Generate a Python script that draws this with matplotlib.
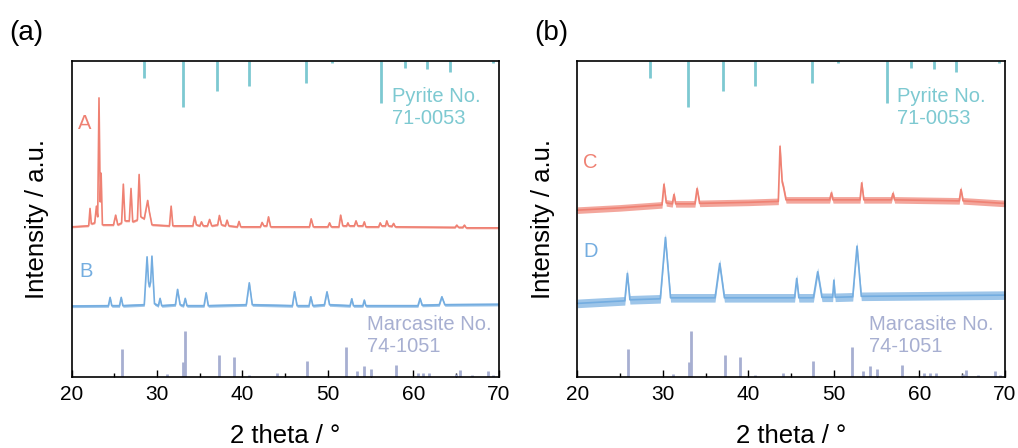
import matplotlib
matplotlib.use("Agg")
import matplotlib.pyplot as plt
import numpy as np

plt.rcParams['font.family'] = ['Liberation Sans', 'DejaVu Sans']

# ---------------- data (2theta in degrees, intensity in a.u.) ----------------
pyrite_pos = [28.5, 33.0, 37.05, 40.75, 47.4, 50.5, 56.25, 59.0, 61.65, 64.25, 69.35]
pyrite_int = [17, 46, 30, 25, 22.5, 2, 42.5, 7.5, 8.5, 11, 2]

marc_pos = [25.93, 31.2, 33.05, 33.28, 37.3, 38.99, 40.75, 44.1, 47.6, 52.1, 53.36,
            54.2, 55.0, 57.98, 60.56, 61.2, 61.9, 65.05, 65.43, 66.9, 68.8, 69.4]
marc_int = [27.7, 2.4, 15, 46, 22, 19.4, 2, 3.4, 15.4, 29.4, 5.7,
            11, 7.4, 11.4, 4, 4, 4, 3, 6.6, 2, 5.4, 2]

A_x = [20, 21.9, 22.0, 22.15, 22.3, 22.7, 22.9, 23.05, 23.2, 23.35, 23.45, 23.6, 24.9, 25.15,
       25.4, 25.85, 26.05, 26.25, 26.75, 26.95, 27.15, 27.7, 27.9, 28.1, 28.5, 28.9, 29.1, 29.4,
       31.45, 31.65, 31.85, 34.2, 34.4, 34.6, 35.0, 35.2, 35.4, 35.9, 36.15, 36.4, 37.1, 37.3,
       37.55, 38.0, 38.2, 38.4, 39.4, 39.6, 39.8, 42.1, 42.3, 42.5, 42.85, 43.05, 43.3, 47.85,
       48.05, 48.3, 50.0, 50.2, 50.4, 51.3, 51.5, 51.75, 52.2, 52.35, 52.5, 53.1, 53.3, 53.5,
       54.1, 54.27, 54.45, 55.95, 56.13, 56.3, 56.75, 56.9, 57.1, 57.5, 57.7, 57.9, 64.9, 65.1,
       65.3, 65.8, 66.0, 66.2, 70]
A_y = [150, 151, 151.5, 168.4, 153, 154, 170.7, 160, 279, 175, 203.7, 152, 152, 161.7,
       152, 154, 192.7, 156, 156, 188.4, 155, 157, 202.4, 160, 158, 176.4, 165, 152,
       151, 170.7, 151, 151, 160.4, 152, 151, 155, 151, 151, 157.4, 151, 152, 161.4,
       152, 151, 156.7, 151, 150, 155.4, 150, 150, 154.4, 151, 151, 160, 150, 150,
       158, 150, 150, 154, 150, 150, 161.7, 151, 151, 154, 151, 151, 156, 151,
       151, 155, 150, 150, 154, 151, 151, 156, 151, 150.5, 153.4, 150, 149.5, 151.7,
       149.5, 149.5, 151.7, 149, 149]

B_x = [20, 24.3, 24.5, 24.7, 25.6, 25.8, 26.0, 28.5, 28.83, 29.0, 29.1, 29.25, 29.4, 29.7,
       30.15, 30.35, 30.55, 32.15, 32.4, 32.7, 33.1, 33.3, 33.5, 35.5, 35.75, 36.0, 40.45, 40.8,
       41.15, 45.85, 46.1, 46.4, 47.8, 48.0, 48.25, 49.6, 49.9, 50.2, 52.6, 52.8, 53.0, 54.1,
       54.27, 54.45, 60.55, 60.8, 61.05, 63.05, 63.35, 63.7, 70]
B_y = [70.7, 71, 79.4, 71, 71, 79.4, 71, 72, 120, 95, 90, 95, 120.7, 73,
       71, 78.4, 71, 72, 87.4, 72, 71, 78.4, 71, 71, 84, 71, 72, 94,
       72, 71, 85, 71, 71, 80, 71, 72, 85, 72, 71, 78, 71, 71,
       76.7, 71, 71, 78.4, 71.5, 72, 80, 72, 72.4]

C_x = [20, 25, 29.9, 30.13, 30.4, 31.1, 31.3, 31.5, 33.75, 34.0, 34.3, 40, 43.5, 43.7,
       43.95, 44.1, 44.4, 49.5, 49.7, 49.9, 53.05, 53.25, 53.5, 56.7, 56.9, 57.1, 64.65,
       64.85, 65.1, 70]
C_y = [166.7, 169, 172, 192.7, 174, 173, 182.4, 173, 173, 188.4, 173.5, 174.5, 175.5, 230.7,
       195, 190, 177, 177, 184, 177, 177, 194, 177, 177, 183.4, 177, 176,
       187.4, 176, 173.4]

D_x = [20, 25.55, 25.85, 26.15, 29.7, 30.3, 30.9, 36.1, 36.65, 37.2, 45.4, 45.65, 45.9,
       47.6, 48.1, 48.6, 49.85, 50.0, 50.15, 52.2, 52.7, 53.2, 70]
D_y = [73.4, 76, 103.4, 77, 78, 139.4, 79, 79, 113.4, 79, 79, 98.4, 79,
       79, 105, 79.5, 79.5, 96.7, 79.5, 80, 130.7, 80.5, 81.7]

noise_amp = {'A': 1.0, 'B': 1.5, 'C': 3.3, 'D': 4.3}

col_A = '#ef8173'
col_B = '#74ade0'
col_pyr = '#7dc9d1'
col_mar = '#a7afd1'

# ---------------- figure ----------------
fig = plt.figure(figsize=(10.18, 4.48), dpi=100)
ax_a = fig.add_axes([0.0704, 0.159, 0.4194, 0.705])
ax_b = fig.add_axes([0.5671, 0.159, 0.4201, 0.705])

YTOP = 316


def draw_panel(ax, curves, letters, panel_label, label_x, pyr_tx, mar_tx):
    ax.set_xlim(20, 70)
    ax.set_ylim(0, YTOP)
    # pyrite reference sticks hanging from top
    ax.vlines(pyrite_pos, [YTOP - h for h in pyrite_int], YTOP, color=col_pyr, lw=2.0)
    # marcasite sticks from bottom
    ax.vlines(marc_pos, 0, marc_int, color=col_mar, lw=2.0)
    for (x, y, c, key) in curves:
        x = np.asarray(x); y = np.asarray(y)
        a = noise_amp[key]
        ax.fill_between(x, y - a, y + a, color=c, lw=0, alpha=0.7)
        ax.plot(x, y, color=c, lw=1.2)
    for (tx, ty, t, c) in letters:
        ax.text(tx, ty, t, color=c, fontsize=14.5, ha='left', va='center')
    ax.text(pyr_tx, 269, 'Pyrite No.\n71-0053', color=col_pyr, fontsize=14.5,
            ha='left', va='center', linespacing=1.2)
    ax.text(mar_tx, 41, 'Marcasite No.\n74-1051', color=col_mar, fontsize=14.5,
            ha='left', va='center', linespacing=1.2)
    ax.set_yticks([])
    ax.set_xticks([20, 30, 40, 50, 60, 70])
    ax.set_xticks([25, 35, 45, 55, 65], minor=True)
    ax.tick_params(axis='x', which='major', direction='in', length=5, width=1,
                   labelsize=15, pad=6, top=False)
    ax.tick_params(axis='x', which='minor', direction='in', length=3, width=1, top=False)
    for s in ax.spines.values():
        s.set_linewidth(1.2)
    ax.set_xlabel('2 theta / °', fontsize=18.5, labelpad=14)
    ax.set_ylabel('Intensity / a.u.', fontsize=18.5, labelpad=16)
    ax.text(label_x, 1.09, panel_label, transform=ax.transAxes, fontsize=20,
            ha='left', va='center')


draw_panel(ax_a,
           [(A_x, A_y, col_A, 'A'), (B_x, B_y, col_B, 'B')],
           [(20.7, 253.7, 'A', col_A), (20.9, 105, 'B', col_B)],
           '(a)', -0.147, 57.5, 54.6)
draw_panel(ax_b,
           [(C_x, C_y, col_A, 'C'), (D_x, D_y, col_B, 'D')],
           [(20.7, 214, 'C', col_A), (20.7, 125, 'D', col_B)],
           '(b)', -0.1, 57.4, 54.1)

fig.savefig('out.png', dpi=100)
